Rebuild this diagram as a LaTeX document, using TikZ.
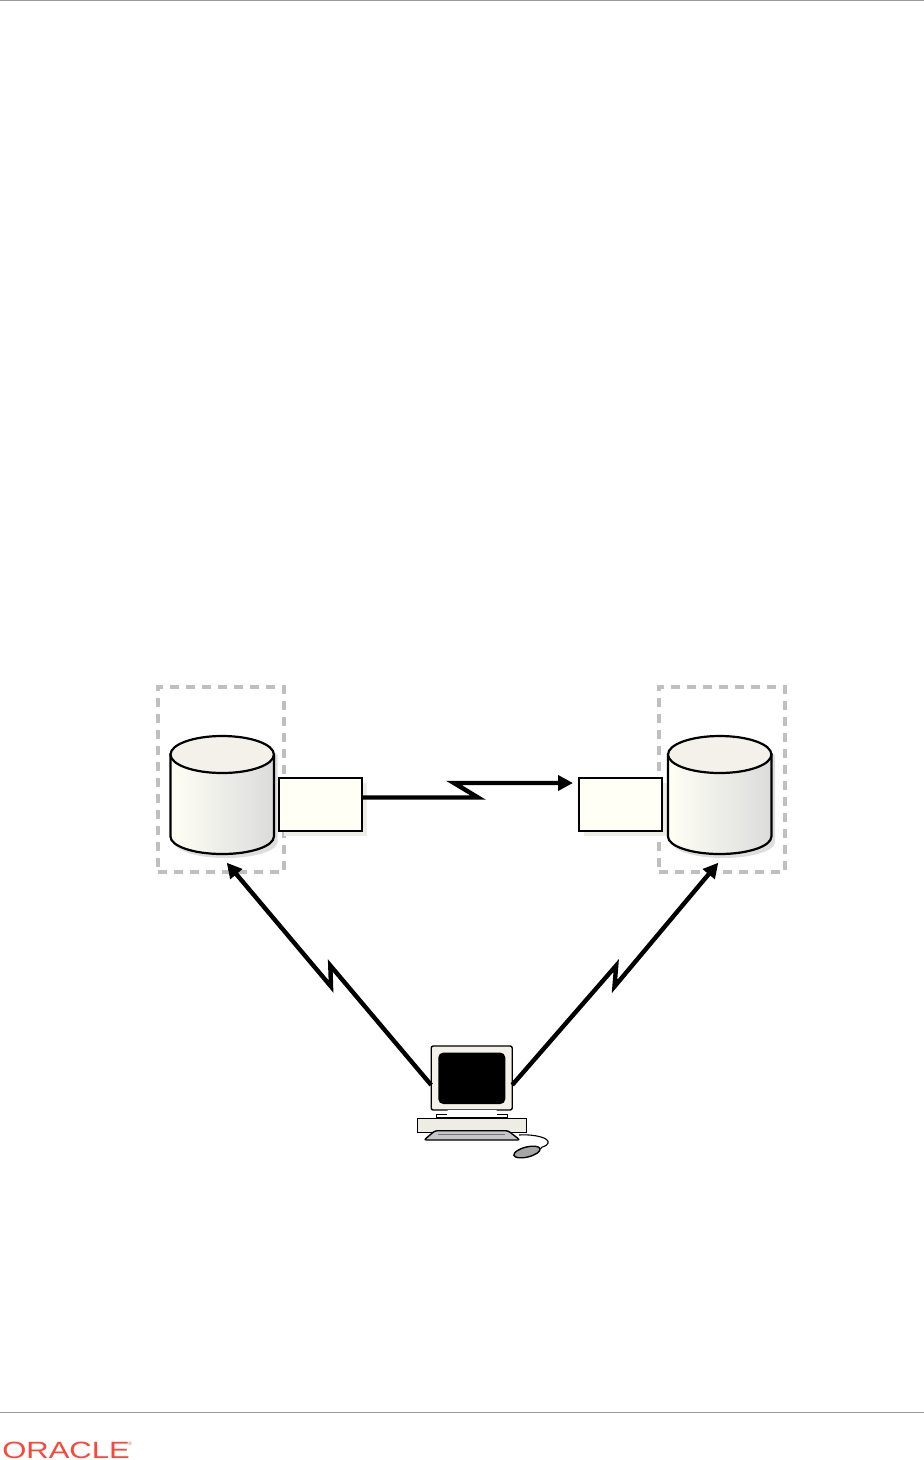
\documentclass[tikz,border=0pt]{standalone}
\usepackage{fontspec}
\usepackage{tikz}
\usetikzlibrary{arrows.meta, positioning, calc, shapes.geometric}
\newfontfamily\logofont{Liberation Sans}
\definecolor{boxfill}{HTML}{FFFFF5}
\definecolor{boxshadow}{HTML}{EDEDE5}
\definecolor{dashgray}{HTML}{BFBFBF}
\definecolor{topfill}{HTML}{F3F1EA}
\definecolor{oraclered}{HTML}{F8483A}
\begin{document}
\begin{tikzpicture}[
			x=1pt, y=-1pt,
			site/.style={rectangle, draw=dashgray, line width=4pt, dash pattern=on 9pt off 7pt,
				minimum width=126pt, minimum height=185pt, inner sep=0pt},
			agent/.style={rectangle, draw=black, line width=2pt, fill=boxfill,
				minimum width=83pt, minimum height=53.5pt, inner sep=0pt, outer sep=0pt},
			boxshade/.style={rectangle, fill=boxshadow, minimum width=83pt, minimum height=53.5pt, inner sep=0pt},
			link/.style={line width=4.4pt, miter limit=12, -{Triangle[length=15pt, width=15pt]}},
			part/.style={draw=black, line width=1.4pt},
			pics/dbcan/.style={code={
					\fill[black!13] (-48,-40.5) -- (-48,47) arc[start angle=180, end angle=360, x radius=51.7pt, y radius=16pt] -- (55.4,-40.5) -- cycle;
					\draw[line width=2.2pt, left color=boxfill, right color=black!14]
					(-51.7,-40.5) -- (-51.7,41.5) arc[start angle=180, end angle=360, x radius=51.7pt, y radius=17.5pt] -- (51.7,-40.5) -- cycle;
					\draw[line width=2.2pt, fill=topfill] (0,-40.5) ellipse[x radius=51.7pt, y radius=18.5pt];
				}}
			]
			\useasboundingbox (0,0) rectangle (924,1460);
			\draw[black!40, line width=1pt] (0,0.5) -- (924,0.5);
			\draw[black!40, line width=1pt] (0,1412) -- (924,1412);
			\node[text=oraclered, font=\logofont\fontsize{23.5}{24}\selectfont, xscale=1.32, inner sep=0pt, anchor=base west] (logo) at (2,1458) {ORACLE};
			\node[text=oraclered, font=\logofont\fontsize{5}{5}\selectfont, inner sep=0pt] (logomark) at (130,1444) {®};
			
			\node[site] (Site1) at (221,779) {};
			\node[site] (Site2) at (721.5,779) {};
			
			\node[boxshade] at (325.5,809.5) {};
			\node[boxshade] at (625.5,809.5) {};
			\node[agent] (Agent1) at (320.8,804.5) {};
			\node[agent] (Agent2) at (620.5,804.5) {};
			
			\pic (Db1) at (222.2,795) {dbcan};
			\pic (Db2) at (719.7,795) {dbcan};
			
			\coordinate (Tip1) at (226.7,862.7);
			\coordinate (Tip2) at (718.3,862.7);
			\coordinate (Tip3) at (573,783);
			
			% computer
			\node[rectangle, draw=black, line width=1.4pt, fill=topfill, rounded corners=2pt, minimum width=81pt, minimum height=64pt, inner sep=0pt, outer sep=0pt] (Monitor) at (471.7,1078) {};
			\node[rectangle, fill=black, rounded corners=5pt, minimum width=67pt, minimum height=51.5pt, inner sep=0pt] (Screen) at (471.8,1078.3) {};
			\node[rectangle, draw=black, line width=1.2pt, fill=white, minimum width=71pt, minimum height=3.5pt, inner sep=0pt] (Plate) at (472,1116.3) {};
			\node[rectangle, left color=white, middle color=black!55, right color=white, minimum width=49pt, minimum height=5pt, inner sep=0pt] (Neck) at (472,1112.5) {};
			\node[rectangle, draw=black, line width=1.4pt, fill=boxshadow, minimum width=109pt, minimum height=14pt, inner sep=0pt] (Base) at (472,1125.3) {};
			\draw[part, fill=black!22, rounded corners=2.5pt] (435,1130.7) -- (508,1130.7) -- (520,1140) -- (424,1140) -- cycle;
			\draw[black!55, line width=0.6pt] (438,1134) -- (505,1134);
			\node[ellipse, draw=black, line width=1.4pt, fill=black!35, rotate=14, minimum width=27pt, minimum height=10pt, inner sep=0pt] (Mouse) at (527,1152) {};
			\draw[black, line width=1.1pt] (519,1135) .. controls (535,1134) and (550,1138) .. (548,1143) .. controls (547,1147) and (541,1146) .. (Mouse.east);
			
			\draw[link] ([yshift=7pt]Agent1.east) -- (478,797.5) -- (454,783) -- (Tip3);
			\draw[link] ([yshift=-7pt]Monitor.west) -- (330.3,965.5) -- (331,986.5) -- (Tip1);
			\draw[link] ([yshift=-7pt]Monitor.east) -- (616.2,965.5) -- (614.5,986.5) -- (Tip2);
		\end{tikzpicture}
\end{document}
